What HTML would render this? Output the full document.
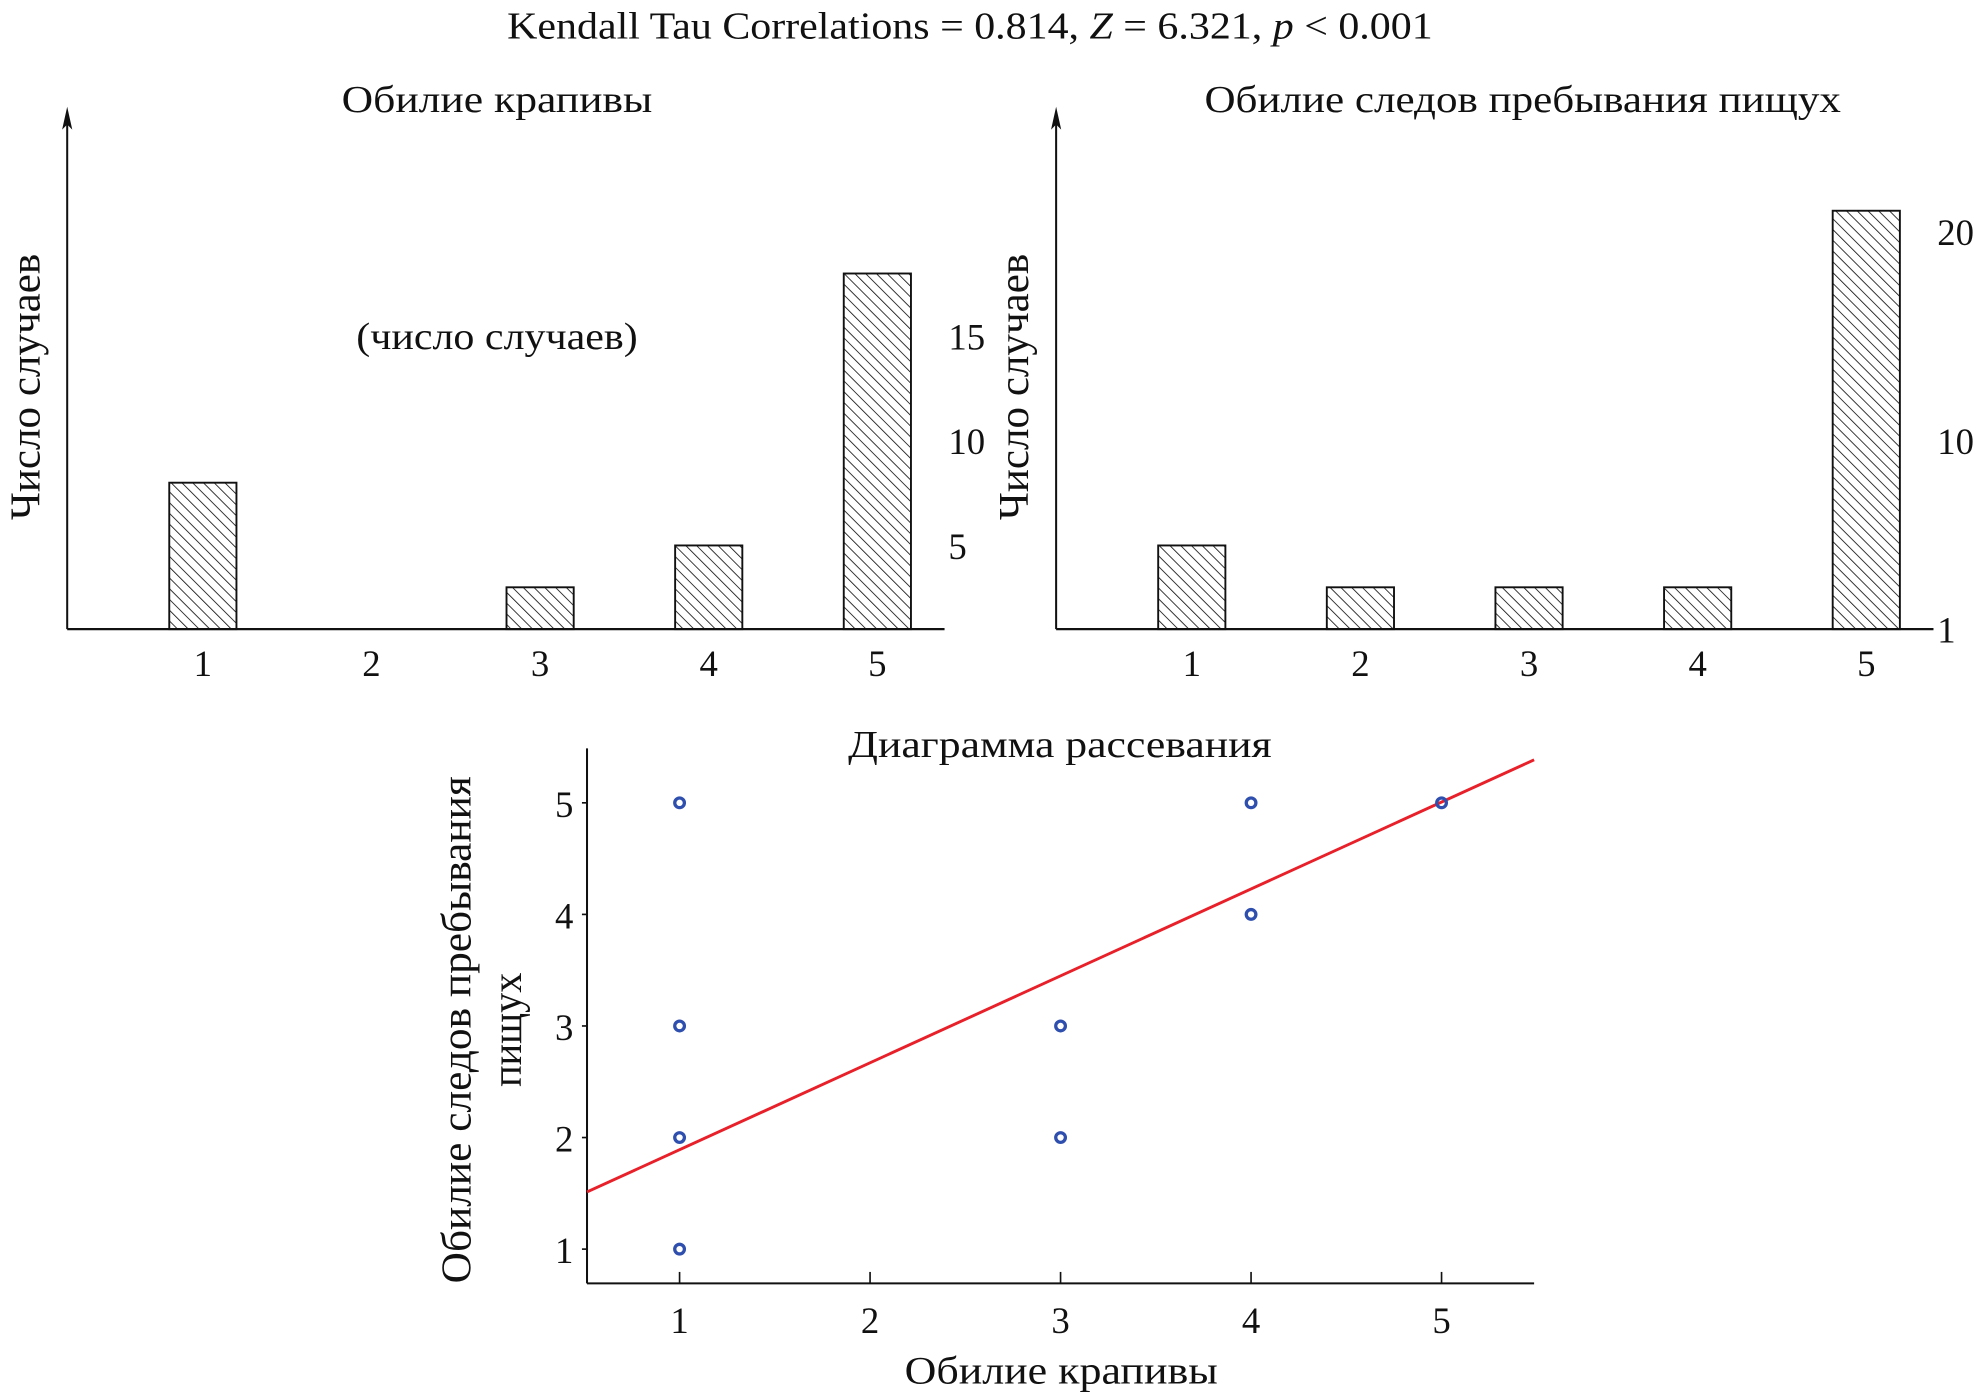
<!DOCTYPE html>
<html><head><meta charset="utf-8"><style>
html,body{margin:0;padding:0;background:#fff}
svg{display:block}
text{font-family:"Liberation Serif",serif;fill:#111}
</style></head><body>
<svg id="fig" width="1988" height="1399" viewBox="0 0 1568 1103">
<defs>
<pattern id="hatch" patternUnits="userSpaceOnUse" width="6" height="6" patternTransform="rotate(-45)">
<line x1="0" y1="0" x2="0" y2="6" stroke="#111" stroke-width="1.3"/>
</pattern>
</defs>
<text x="765" y="30" font-size="30" text-anchor="middle" textLength="730" lengthAdjust="spacingAndGlyphs">Kendall Tau Correlations = 0.814, <tspan font-style="italic">Z</tspan> = 6.321, <tspan font-style="italic">p</tspan> &lt; 0.001</text>
<g id="g1"></g>
<g id="g2"></g>
<g id="g3"></g>
</svg>
<script>
const histCats=[1,2,3,4,5];
const nettleCounts=[7,0,2,4,17];
const pikaCounts=[4,2,2,2,20];
const nettleTicks=[5,10,15];
const pikaTicks=[1,10,20];
const scatX=[1,1,1,1,3,3,4,4,5];
const scatY=[5,3,2,1,3,2,5,4,5];
const scatXTicks=[1,2,3,4,5];
const scatYTicks=[1,2,3,4,5];
const fitSlope=0.779, fitIntercept=1.112;

const NS='http://www.w3.org/2000/svg';
function mk(parent,tag,attrs,txt){const e=document.createElementNS(NS,tag);for(const k in attrs)e.setAttribute(k,attrs[k]);if(txt!==undefined)e.textContent=txt;parent.appendChild(e);return e;}

function hist(gid,x0,counts,ticks,title,titleLen,titleX,extra){
  const g=document.getElementById(gid);
  const base=496,k=16.5,step=133,w=53;
  const xc=c=>x0+107+(c-1)*step;
  const yv=v=>base-v*k;
  let a=mk(g,'line',{x1:x0,y1:base,x2:x0,y2:92,stroke:'#111','stroke-width':1.6});
  
  
  a=mk(g,'path',{d:`M${x0} 84 L${x0+4} 102 L${x0} 98 L${x0-4} 102 Z`,fill:'#111'});
  
  
  a=mk(g,'line',{x1:x0,y1:base,x2:x0+692,y2:base,stroke:'#111','stroke-width':1.8});
  
  
  histCats.forEach((c,i)=>{
    if(counts[i]>0){
      const r=mk(g,'rect',{x:xc(c)-w/2,y:yv(counts[i]),width:w,height:counts[i]*k,fill:'url(#hatch)',stroke:'#111','stroke-width':1.5});
      
      
    }
    const t=mk(g,'text',{x:xc(c),y:533,'font-size':29,'text-anchor':'middle'},String(c));
    
    
  });
  ticks.forEach(v=>{
    const t=mk(g,'text',{x:x0+695,y:yv(v)+27,'font-size':29,'text-anchor':'start'},String(v));
    
    
  });
  let t=mk(g,'text',{x:titleX,y:88,'font-size':30,'text-anchor':'middle',textLength:titleLen,lengthAdjust:'spacingAndGlyphs'},title);
  
  
  t=mk(g,'text',{x:0,y:0,'font-size':33,'text-anchor':'middle',textLength:210,lengthAdjust:'spacingAndGlyphs',transform:`translate(${x0-22},305) rotate(-90)`},'Число случаев');
  
  
  if(extra){t=mk(g,'text',{x:392,y:275,'font-size':30,'text-anchor':'middle',textLength:222,lengthAdjust:'spacingAndGlyphs'},extra);
    
    }
}
hist('g1',53,nettleCounts,nettleTicks,'Обилие крапивы',245,392,'(число случаев)');
hist('g2',833,pikaCounts,pikaTicks,'Обилие следов пребывания пищух',502,1201);

(function(){
  const g=document.getElementById('g3');
  const L=463,R=1210,B=1012,T=590;
  const sx=v=>536+(v-1)*150.25;
  const sy=v=>985-(v-1)*88;
  let a=mk(g,'line',{x1:L,y1:T,x2:L,y2:B,stroke:'#111','stroke-width':1.6});
  
  
  a=mk(g,'line',{x1:L,y1:B,x2:R,y2:B,stroke:'#111','stroke-width':1.6});
  
  
  scatXTicks.forEach(v=>{
    let l=mk(g,'line',{x1:sx(v),y1:B,x2:sx(v),y2:B-9,stroke:'#111','stroke-width':1.3});
    
    
    let t=mk(g,'text',{x:sx(v),y:1051,'font-size':29,'text-anchor':'middle'},String(v));
    
    
  });
  scatYTicks.forEach(v=>{
    let l=mk(g,'line',{x1:L-4,y1:sy(v),x2:L,y2:sy(v),stroke:'#111','stroke-width':1.3});
    
    
    let t=mk(g,'text',{x:445,y:sy(v)+11,'font-size':29,'text-anchor':'middle'},String(v));
    
    
  });
  const x1=(L-536)/150.25+1, x2=(R-536)/150.25+1;
  let ln=mk(g,'line',{x1:sx(x1),y1:sy(fitIntercept+fitSlope*x1),x2:sx(x2),y2:sy(fitIntercept+fitSlope*x2),stroke:'#e8202a','stroke-width':2.3});
  
  
  scatX.forEach((x,i)=>{
    const c=mk(g,'circle',{cx:sx(x),cy:sy(scatY[i]),r:3.8,fill:'none',stroke:'#2f4fae','stroke-width':2.6});
    
    
  });
  let t=mk(g,'text',{x:836,y:597,'font-size':30,'text-anchor':'middle',textLength:334,lengthAdjust:'spacingAndGlyphs'},'Диаграмма рассевания');
  
  
  t=mk(g,'text',{x:837,y:1091,'font-size':31,'text-anchor':'middle',textLength:247,lengthAdjust:'spacingAndGlyphs'},'Обилие крапивы');
  
  
  t=mk(g,'text',{x:0,y:0,'font-size':33,'text-anchor':'middle',textLength:400,lengthAdjust:'spacingAndGlyphs',transform:'translate(371,812) rotate(-90)'},'Обилие следов пребывания');
  
  
  t=mk(g,'text',{x:0,y:0,'font-size':33,'text-anchor':'middle',textLength:90,lengthAdjust:'spacingAndGlyphs',transform:'translate(411,812) rotate(-90)'},'пищух');
  
  
})();
</script>
</body></html>
